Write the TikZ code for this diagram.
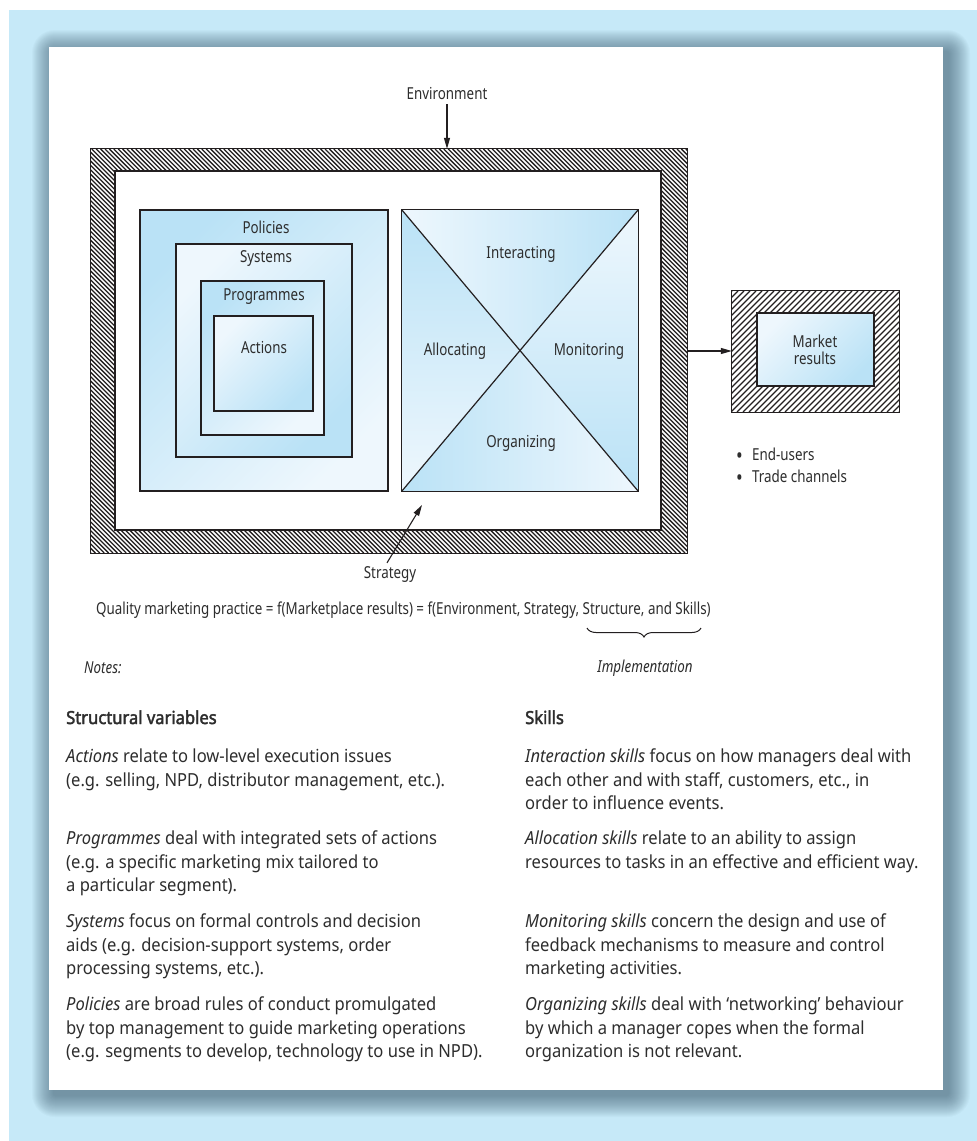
\documentclass[tikz,border=0pt]{standalone}
\usepackage{fontspec}
\setmainfont{Noto Sans}
\newfontfamily\lblfont[FakeStretch=0.81]{Noto Sans}
\newfontfamily\txtfont[FakeStretch=0.92]{Noto Sans}
\newfontfamily\headfont[FakeStretch=0.92,FakeBold=2.2]{Noto Sans}
\usetikzlibrary{arrows.meta,decorations.pathreplacing}

\definecolor{bgblue}{RGB}{198,233,248}
\definecolor{shadowc}{RGB}{62,92,110}
\definecolor{fillblue}{RGB}{186,226,246}
\definecolor{filllight}{RGB}{238,247,253}
\definecolor{ink}{RGB}{35,31,32}
\definecolor{txt}{RGB}{45,45,45}

\newcommand{\blt}{\makebox[16pt][l]{\raisebox{-3.2pt}{\fontsize{22}{22}\selectfont •}}}

\begin{document}
\begin{tikzpicture}[x=1pt,y=-1pt,
  line/.style={draw=ink, line width=1.2pt},
  box/.style={line, inner sep=0pt},
  lbl/.style={font=\lblfont\fontsize{16.5}{17}\selectfont, text=txt, inner sep=0pt},
  arr/.style={draw=ink, line width=1.1pt, -{Triangle[length=11pt,width=6pt]}},
  hatchA/.style={draw=ink, line width=1.3pt},
  hatchB/.style={draw=ink, line width=1.3pt},
  para/.style={font=\txtfont\fontsize{18}{23.5}\selectfont, text=txt, align=left, anchor=north west, inner sep=0pt},
  head/.style={font=\headfont\fontsize{18}{23.5}\selectfont, text=txt, anchor=base west, inner sep=0pt},
  tlblue/.style={top color=fillblue, bottom color=filllight, shading angle=45},
  tllight/.style={top color=filllight, bottom color=fillblue, shading angle=45}
]
% page and background
\useasboundingbox (0,0) rectangle (977,1141);
\fill[white] (0,0) rectangle (977,1141);
\fill[bgblue] (9,10) rectangle (977,1141);

% soft shadow round the white panel
\foreach \k in {0,...,21}{
  \pgfmathsetmacro\e{22-\k}
  \fill[shadowc, opacity=0.034, rounded corners={\e pt+1pt}]
    ({54-\e},{52-\e}) rectangle ({948+\e},{1095+\e});
}
\fill[white] (49,47) rectangle (943,1090);

% ---------- hatched environment frame ----------
\node[minimum width=596pt, minimum height=404pt, inner sep=0pt] (frame) at (389,351) {};
\begin{scope}
  \clip (frame.north west) rectangle (frame.south east);
  \foreach \i in {0,...,228}{
    \draw[hatchA] ({-313+\i*4.4},149) -- ++(404,404);
  }
\end{scope}
\fill[white] (115,171) rectangle (661,530);
\draw[line] (frame.north west) rectangle (frame.south east);
\draw[line] (115,171) rectangle (661,530);

% ---------- nested structure boxes ----------
\node[box, tlblue, minimum width=248pt, minimum height=281pt] (pol) at (264,350.5) {};
\node[box, tllight, minimum width=176pt, minimum height=213pt] (sys) at (264,350.5) {};
\node[box, tlblue, minimum width=123pt, minimum height=154pt] (prog) at (262.5,358) {};
\node[box, tllight, minimum width=99pt, minimum height=95pt] (act) at (263.5,363.5) {};
\node[lbl] (polL) at (266,227) {Policies};
\node[lbl] (sysL) at (266,259) {Systems};
\node[lbl] (progL) at (264,297) {Programmes};
\node[lbl] (actL) at (264,347) {Actions};

% ---------- skills box with diagonals ----------
\node[minimum width=236pt, minimum height=281pt, inner sep=0pt] (xbox) at (520,350.5) {};
\shade[left color=filllight, middle color=fillblue, right color=fillblue]
  (xbox.north west) -- (xbox.north east) -- (xbox.center) -- cycle;
\shade[top color=fillblue, middle color=fillblue, bottom color=filllight]
  (xbox.north west) -- (xbox.center) -- (xbox.south west) -- cycle;
\shade[top color=filllight, middle color=fillblue, bottom color=fillblue]
  (xbox.north east) -- (xbox.center) -- (xbox.south east) -- cycle;
\shade[left color=fillblue, middle color=fillblue, right color=filllight]
  (xbox.south west) -- (xbox.center) -- (xbox.south east) -- cycle;
\draw[line] (xbox.north west) rectangle (xbox.south east);
\draw[line] (xbox.north west) -- (xbox.south east);
\draw[line] (xbox.north east) -- (xbox.south west);
\node[lbl] (intL) at (521,254) {Interacting};
\node[lbl] (allL) at (455,351) {Allocating};
\node[lbl] (monL) at (589,351) {Monitoring};
\node[lbl] (orgL) at (521,443) {Organizing};

% ---------- market results ----------
\node[minimum width=167pt, minimum height=121pt, inner sep=0pt] (mkt) at (815.5,351.5) {};
\begin{scope}
  \clip (mkt.north west) rectangle (mkt.south east);
  \foreach \i in {0,...,49}{
    \draw[hatchB] ({611+\i*6},412) -- ++(121,-121);
  }
\end{scope}
\draw[line] (mkt.north west) rectangle (mkt.south east);
\node[box, tllight, minimum width=117pt, minimum height=73pt] (mktin) at (815.5,349.5) {};
\node[lbl, align=center] (mktL) at (815,350) {Market\\results};
\node[lbl, anchor=base west] (user1) at (736,460) {\blt End-users};
\node[lbl, anchor=base west] (user2) at (736,482) {\blt Trade channels};

% ---------- environment, strategy and market arrows ----------
\node[lbl] (env) at (447,93) {Environment};
\draw[arr] ([yshift=-5pt]env.south) -- (env.south |- frame.north);
\node[lbl] (strat) at (390,574) {Strategy};
\coordinate (stip) at (422,505);
\draw[arr] ([xshift=-3pt,yshift=3pt]strat.north) -- (stip);
\draw[arr] (frame.east) -- (frame.east -| mkt.west);

% ---------- formula ----------
\node[lbl, anchor=west] (formula) at (96,610)
  {Quality marketing practice = f(Marketplace results) = f(Environment, Strategy, Structure, and Skills)};
\coordinate (brL) at (587,628);
\coordinate (brR) at (701,628);
\draw[ink, line width=1pt, decorate, decoration={brace, mirror, amplitude=9pt}] (brL) -- (brR);
\node[lbl, font=\lblfont\itshape\fontsize{16.5}{17}\selectfont] (impl) at (645,668) {Implementation};
\node[lbl, anchor=west, font=\lblfont\itshape\fontsize{16.5}{17}\selectfont] (notes) at (84,668) {Notes:};

% ---------- notes text ----------
\node[head] (hStruct) at (66,724) {Structural variables};
\node[para] (pAct) at (66,746) {\strut\emph{Actions} relate to low-level execution issues\\(e.g. selling, NPD, distributor management, etc.).};
\node[para] (pProg) at (66,828) {\strut\emph{Programmes} deal with integrated sets of actions\\(e.g. a specific marketing mix tailored to\\a particular segment).};
\node[para] (pSys) at (66,911) {\strut\emph{Systems} focus on formal controls and decision\\aids (e.g. decision-support systems, order\\processing systems, etc.).};
\node[para] (pPol) at (66,994) {\strut\emph{Policies} are broad rules of conduct promulgated\\by top management to guide marketing operations\\(e.g. segments to develop, technology to use in NPD).};

\node[head] (hSkills) at (525,724) {Skills};
\node[para] (pInt) at (525,746) {\strut\emph{Interaction skills} focus on how managers deal with\\each other and with staff, customers, etc., in\\order to influence events.};
\node[para] (pAll) at (525,828) {\strut\emph{Allocation skills} relate to an ability to assign\\resources to tasks in an effective and efficient way.};
\node[para] (pMon) at (525,911) {\strut\emph{Monitoring skills} concern the design and use of\\feedback mechanisms to measure and control\\marketing activities.};
\node[para] (pOrg) at (525,994) {\strut\emph{Organizing skills} deal with ‘networking’ behaviour\\by which a manager copes when the formal\\organization is not relevant.};
\end{tikzpicture}
\end{document}
